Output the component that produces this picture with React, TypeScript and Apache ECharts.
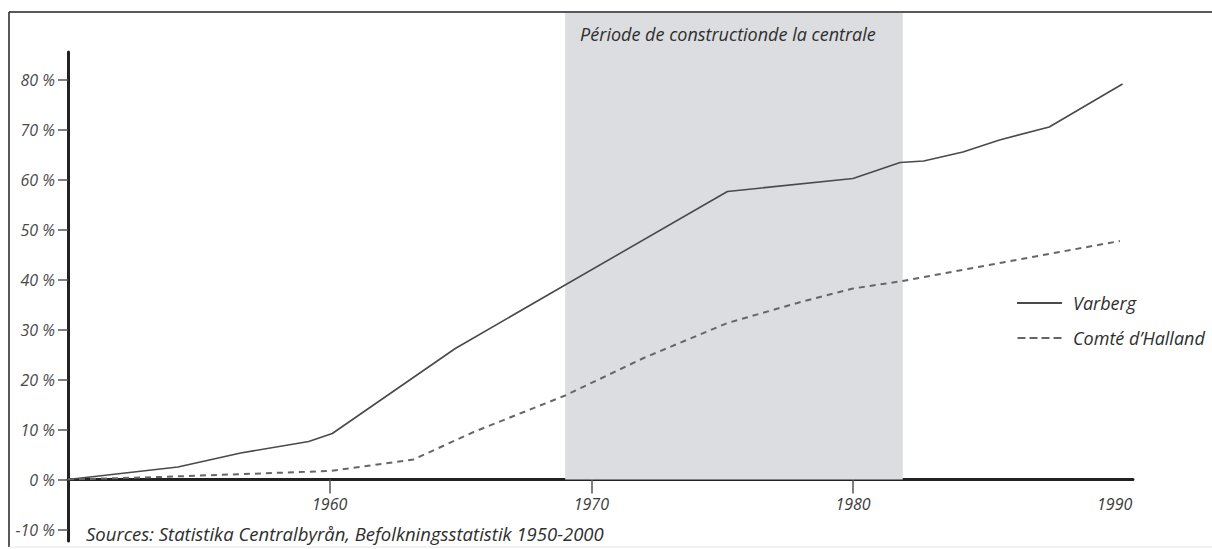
import React, { useEffect, useRef } from "react";
import * as echarts from "echarts";

const varbergYears = [1950, 1954.2, 1956.6, 1959.2, 1960.1, 1964.8, 1968.5, 1975.2, 1980, 1981.8, 1982.7, 1984.2, 1985.6, 1987.5, 1988.8, 1990.3];
const varbergValues = [0, 2.5, 5.3, 7.6, 9.2, 26.2, 37.4, 57.6, 60.2, 63.4, 63.7, 65.5, 67.9, 70.5, 74.5, 79.1];

const hallandYears = [1950, 1953.5, 1960, 1963.2, 1965.5, 1969, 1972, 1975.2, 1978, 1980, 1981.9, 1985.5, 1990.2];
const hallandValues = [0, 0.5, 1.7, 4.0, 9.5, 16.8, 24.3, 31.3, 35.5, 38.2, 39.7, 43.2, 47.7];

const xTickValues = [1960, 1970, 1980];
const xLabelValues = [1960, 1970, 1980, 1990];
const yTickValues = [-10, 0, 10, 20, 30, 40, 50, 60, 70, 80];

const constructionPeriod = [1969, 1981.9];
const bandLabel = "Période de constructionde la centrale";
const seriesNames = ["Varberg", "Comté d’Halland"];
const sourceText = "Sources: Statistika Centralbyrån, Befolkningsstatistik 1950-2000";

const X_MIN = 1950;
const X_MAX = 1990.7;
const Y_MIN = -12.3;
const Y_AXIS_TOP = 85.5;
const Y_BAND_TOP = 93.3;

const FONT = "'Open Sans', 'Noto Sans', sans-serif";

const SOLID_ICON = "path://M0,0H45V2H0Z";
const DASH_ICON = "path://M0,0H8V2H0Z M12,0H20V2H12Z M24,0H32V2H24Z M36,0H44V2H36Z";

export default function App() {
  const ref = useRef<HTMLDivElement>(null);

  useEffect(() => {
    if (!ref.current) return;
    const chart = echarts.init(ref.current, null, { renderer: "svg" });
    const zip = (xs: number[], ys: number[]) => xs.map((x, i) => [x, ys[i]]);

    chart.setOption({
      animation: false,
      backgroundColor: "#ffffff",
      textStyle: { fontFamily: FONT },
      grid: [
        { left: 68, right: 79, top: 13, bottom: 69.5, containLabel: false, outerBoundsMode: "none" },
        { left: 68, right: 79, top: 52, bottom: 8, containLabel: false, outerBoundsMode: "none" },
      ],
      title: {
        text: sourceText,
        left: 86,
        top: 524,
        padding: 0,
        textStyle: { fontFamily: FONT, fontStyle: "italic", fontWeight: "normal", fontSize: 18.5, color: "#2e2e2e" },
      },
      legend: {
        orient: "vertical",
        left: 1012,
        top: 287,
        itemWidth: 45,
        itemHeight: 2,
        itemGap: 13,
        data: [
          { name: seriesNames[0], icon: SOLID_ICON },
          { name: seriesNames[1], icon: DASH_ICON },
        ],
        textStyle: {
          fontFamily: FONT,
          fontStyle: "italic",
          fontSize: 18,
          lineHeight: 22,
          color: "#2e2e2e",
          padding: [0, 0, 0, 6],
        },
      },
      xAxis: [
        {
          type: "value",
          gridIndex: 0,
          min: X_MIN,
          max: X_MAX,
          splitLine: { show: false },
          axisLine: { show: true, onZero: false, lineStyle: { color: "#222", width: 3 } },
          axisTick: { show: true, customValues: xTickValues, length: 14, lineStyle: { color: "#555", width: 1.5 } },
          axisLabel: {
            customValues: xLabelValues,
            margin: 16,
            formatter: (v: number) => String(v),
            fontFamily: FONT,
            fontStyle: "italic",
            fontSize: 16,
            color: "#3a3a3a",
          },
        },
        {
          type: "value",
          gridIndex: 1,
          min: X_MIN,
          max: X_MAX,
          show: false,
        },
      ],
      yAxis: [
        {
          type: "value",
          gridIndex: 0,
          min: 0,
          max: Y_BAND_TOP,
          show: false,
        },
        {
          type: "value",
          gridIndex: 1,
          min: Y_MIN,
          max: Y_AXIS_TOP,
          splitLine: { show: false },
          axisLine: { show: true, onZero: false, lineStyle: { color: "#222", width: 3 } },
          axisTick: { show: true, customValues: yTickValues, length: 10, lineStyle: { color: "#555", width: 1.5 } },
          axisLabel: {
            customValues: yTickValues,
            margin: 13,
            formatter: (v: number) => `${v} %`,
            fontFamily: FONT,
            fontStyle: "italic",
            fontSize: 16,
            color: "#4a4a4a",
          },
        },
      ],
      graphic: [
        { type: "line", shape: { x1: 9, y1: 12, x2: 1212, y2: 12 }, style: { stroke: "#222", lineWidth: 1.5 }, z: 100 },
        { type: "line", shape: { x1: 9, y1: 12, x2: 9, y2: 547 }, style: { stroke: "#222", lineWidth: 1.5 }, z: 100 },
        { type: "line", shape: { x1: 9, y1: 547, x2: 1212, y2: 547 }, style: { stroke: "#e6e6e6", lineWidth: 1 }, z: 100 },
      ],
      series: [
        {
          name: seriesNames[0],
          type: "line",
          xAxisIndex: 0,
          yAxisIndex: 0,
          data: zip(varbergYears, varbergValues),
          symbol: "none",
          lineStyle: { color: "#4a4a4a", width: 1.6 },
          itemStyle: { color: "#4a4a4a" },
          z: 5,
          markArea: {
            silent: true,
            itemStyle: { color: "#dcdde0" },
            label: {
              show: true,
              position: "insideTop",
              distance: 0,
              offset: [-6, 12],
              fontFamily: FONT,
              fontStyle: "italic",
              fontSize: 18,
              color: "#2e2e2e",
            },
            data: [[
              { name: bandLabel, xAxis: constructionPeriod[0], yAxis: 0 },
              { xAxis: constructionPeriod[1], yAxis: Y_BAND_TOP },
            ]],
          },
        },
        {
          name: seriesNames[1],
          type: "line",
          xAxisIndex: 0,
          yAxisIndex: 0,
          data: zip(hallandYears, hallandValues),
          symbol: "none",
          lineStyle: { color: "#666", width: 2, type: [6, 5] },
          itemStyle: { color: "#666" },
          z: 5,
        },
      ],
    });
    return () => chart.dispose();
  }, []);

  return (
    <div
      ref={ref}
      style={{ position: "fixed", left: 0, top: 0, width: 1212, height: 549 }}
    />
  );
}
